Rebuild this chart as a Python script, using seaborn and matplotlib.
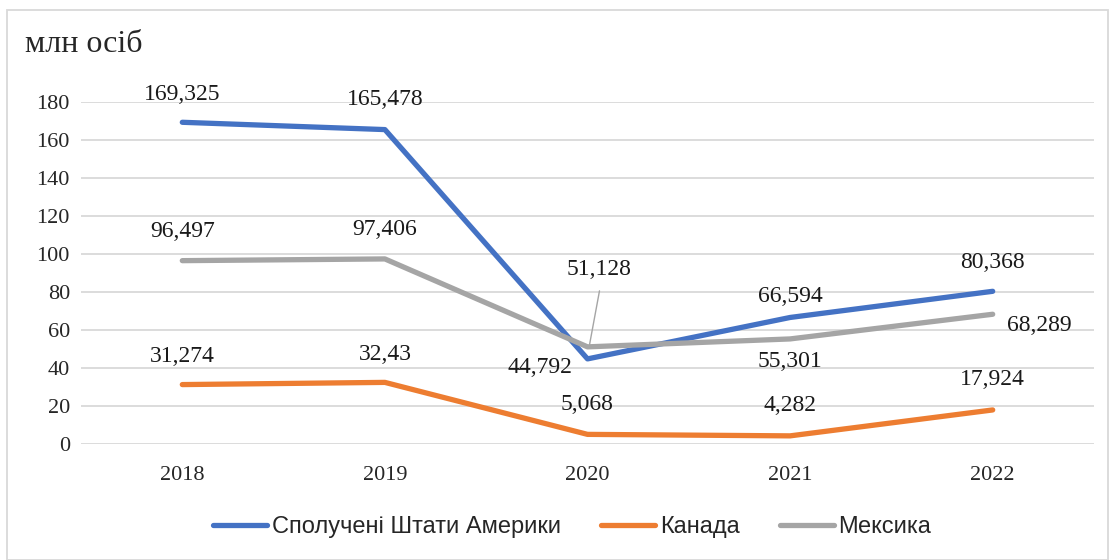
import numpy as np
import pandas as pd
import matplotlib
matplotlib.use("Agg")
import matplotlib.pyplot as plt
import seaborn as sns
from matplotlib.patches import Rectangle
from matplotlib.lines import Line2D

# Data (million people)
years = ["2018", "2019", "2020", "2021", "2022"]
usa = [169.325, 165.478, 44.792, 66.594, 80.368]
canada = [31.274, 32.43, 5.068, 4.282, 17.924]
mexico = [96.497, 97.406, 51.128, 55.301, 68.289]
series_names = ["Сполучені Штати Америки", "Канада", "Мексика"]
label_usa = ["169,325", "165,478", "44,792", "66,594", "80,368"]
label_canada = ["31,274", "32,43", "5,068", "4,282", "17,924"]
label_mexico = ["96,497", "97,406", "51,128", "55,301", "68,289"]
y_ticks = [0, 20, 40, 60, 80, 100, 120, 140, 160, 180]

colors = ["#4472C4", "#ED7D31", "#A5A5A5"]

df = pd.DataFrame({
    "year": years * 3,
    "value": usa + canada + mexico,
    "country": [series_names[0]] * 5 + [series_names[1]] * 5 + [series_names[2]] * 5,
})

sns.set_theme(style="white")
serif = ["Liberation Serif", "DejaVu Serif"]
sans = ["Liberation Sans", "DejaVu Sans"]

fig = plt.figure(figsize=(11.15, 5.6), dpi=100)
ax = fig.add_axes([81 / 1115, 1 - 444 / 560, (1094 - 81) / 1115, (444 - 102) / 560])

sns.lineplot(data=df, x="year", y="value", hue="country", palette=colors,
             linewidth=3.8, ax=ax, legend=False, sort=False)
for line in ax.lines:
    line.set_solid_capstyle("round")

ax.set_xlim(-0.5, 4.5)
ax.set_ylim(0, 180)
ax.set_yticks(y_ticks)
ax.set_yticklabels([str(t) for t in y_ticks], fontfamily=serif, fontsize=16)
ax.set_xticks(range(5))
ax.set_xticklabels(years, fontfamily=serif, fontsize=16)
ax.tick_params(axis="x", length=0, pad=16)
ax.tick_params(axis="y", length=0, pad=8)
ax.yaxis.grid(True, color="#D9D9D9", linewidth=1.3)
ax.set_axisbelow(True)
for s in ax.spines.values():
    s.set_visible(False)
ax.set_xlabel("")
ax.set_ylabel("")

# data labels: (dx, dy) offsets in pixels
def put_labels(vals, labels, offsets):
    for i, (v, lab, off) in enumerate(zip(vals, labels, offsets)):
        ax.annotate(lab, (i, v), xytext=off, textcoords="offset pixels",
                    ha="center", va="center", fontfamily=serif, fontsize=17,
                    color="#1a1a1a")

put_labels(usa, label_usa, [(0, 28), (0, 30), (-48, -9), (0, 21), (0, 29)])
put_labels(canada, label_canada, [(0, 28), (0, 28), (0, 30), (0, 30), (0, 30)])
put_labels(mexico, label_mexico, [(0, 29), (0, 29), (12, 77), (0, -23), (47, -11)])

# leader line for 51,128
x0, y0 = ax.transData.transform((2, mexico[2]))
inv = ax.transData.inverted()
p1 = inv.transform((x0 + 2, y0 + 2))
p2 = inv.transform((x0 + 12, y0 + 56))
ax.plot([p1[0], p2[0]], [p1[1], p2[1]], color="#A5A5A5", linewidth=1)

# title
fig.text(25 / 1115, 1 - 45 / 560, "млн осіб", fontfamily=serif, fontsize=23,
         ha="left", va="center")

# legend
handles = [Line2D([0], [0], color=c, linewidth=3.8, solid_capstyle="round") for c in colors]
leg = fig.legend(handles, series_names, loc="center", bbox_to_anchor=(0.513, 1 - 527 / 560),
                 ncol=3, frameon=False, handlelength=2.3, columnspacing=1.7,
                 handletextpad=0.2, prop={"family": sans, "size": 17})

# outer frame
fig.patches.append(Rectangle((7 / 1115, 0.0), 1 - 14 / 1115, 1 - 10 / 560,
                             transform=fig.transFigure, fill=False,
                             edgecolor="#D9D9D9", linewidth=1.3))

fig.savefig("out.png", dpi=100)
